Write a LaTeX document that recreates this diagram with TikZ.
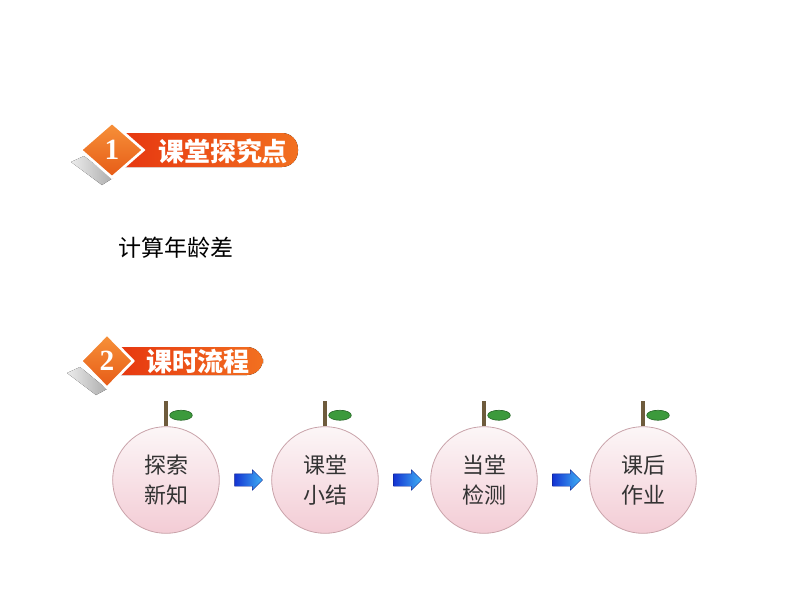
\documentclass[tikz,border=0pt]{standalone}
\usepackage{fontspec}
\newfontfamily\cjk{Noto Sans CJK SC}
\newfontfamily\numfont{Liberation Serif}
\usetikzlibrary{shapes.geometric}
\usetikzlibrary{shapes.arrows}
\usetikzlibrary{calc}
\usetikzlibrary{positioning}

\definecolor{tagtop}{HTML}{F7923A}
\definecolor{tagbottom}{HTML}{E65A16}
\definecolor{bandleft}{HTML}{E5300E}
\definecolor{bandright}{HTML}{F27020}
\definecolor{balltop}{HTML}{FCF6F7}
\definecolor{ballbottom}{HTML}{F3CCD5}
\definecolor{balledge}{HTML}{C9A3AA}
\definecolor{stemcol}{HTML}{6E5B3C}
\definecolor{leafcol}{HTML}{3C9A3C}
\definecolor{leafedge}{HTML}{2A6B2A}
\definecolor{pushleft}{HTML}{1434D2}
\definecolor{pushright}{HTML}{3FB0F5}

\tikzset{
  numtag/.style={diamond, inner sep=0pt, top color=tagtop, bottom color=tagbottom,
    draw=white, line width=2pt, text=white, font=\numfont\bfseries\fontsize{22pt}{22pt}\selectfont},
  band/.style={left color=bandleft, right color=bandright, rounded corners=12pt},
  tagshadow/.style={left color=gray!15, right color=gray!65},
  bandtext/.style={text=white, font=\cjk\bfseries\fontsize{19.5pt}{19.5pt}\selectfont},
  ball/.style={circle, minimum size=80pt, inner sep=0pt, top color=balltop, bottom color=ballbottom,
    draw=balledge, line width=0.6pt, align=center, text=black!80,
    font=\cjk\fontsize{16.5pt}{22.5pt}\selectfont},
  stalk/.style={draw=stemcol, line width=3pt},
  leaf/.style={ellipse, minimum width=17pt, minimum height=7.5pt, inner sep=0pt,
    fill=leafcol, draw=leafedge, line width=0.5pt},
  push/.style={single arrow, minimum height=21pt, inner xsep=0pt, inner ysep=4.5pt,
    single arrow head extend=3pt, left color=pushleft, right color=pushright,
    draw=pushleft!70!black, line width=0.3pt}
}

\begin{document}
\begin{tikzpicture}[x=0.75pt, y=-0.75pt]
	\useasboundingbox (0,0) rectangle (794,596);
	% first heading
	\fill[tagshadow] (71,162) -- (84,156) -- (113,178) -- (102,185) -- cycle;
	\fill[band] (100,133) rectangle (298,167);
	\node[numtag, minimum width=48pt, minimum height=42pt] (num1) at (112,150) {1};
	\node[bandtext] (title1) at (223,151) {课堂探究点};
	\node[text=black, font=\cjk\fontsize{17.25pt}{17.25pt}\selectfont] (topic) at (176,248) {计算年龄差};
	% second heading
	\fill[tagshadow] (67,373) -- (80,367) -- (107,389) -- (96,395) -- cycle;
	\fill[band] (100,347) rectangle (263,375);
	\node[numtag, minimum width=40pt, minimum height=41pt] (num2) at (107,361) {2};
	\node[bandtext] (title2) at (198,362) {课时流程};
	% flow
	\node[ball] (explore) at (166,480) {探索\\新知};
	\node[ball] (recap) at (325,480) {课堂\\小结};
	\node[ball] (check) at (484,480) {当堂\\检测};
	\node[ball] (homework) at (643,480) {课后\\作业};
	\draw[stalk] (explore.north) -- ++(0,-25);
	\draw[stalk] (recap.north) -- ++(0,-25);
	\draw[stalk] (check.north) -- ++(0,-25);
	\draw[stalk] (homework.north) -- ++(0,-25);
	\node[leaf] (leaf1) at ($(explore.north)+(15,-11)$) {};
	\node[leaf] (leaf2) at ($(recap.north)+(15,-11)$) {};
	\node[leaf] (leaf3) at ($(check.north)+(15,-11)$) {};
	\node[leaf] (leaf4) at ($(homework.north)+(15,-11)$) {};
	\node[push] (go1) at ($(explore.east)!0.5!(recap.west)$) {};
	\node[push] (go2) at ($(recap.east)!0.5!(check.west)$) {};
	\node[push] (go3) at ($(check.east)!0.5!(homework.west)$) {};
\end{tikzpicture}
\end{document}
